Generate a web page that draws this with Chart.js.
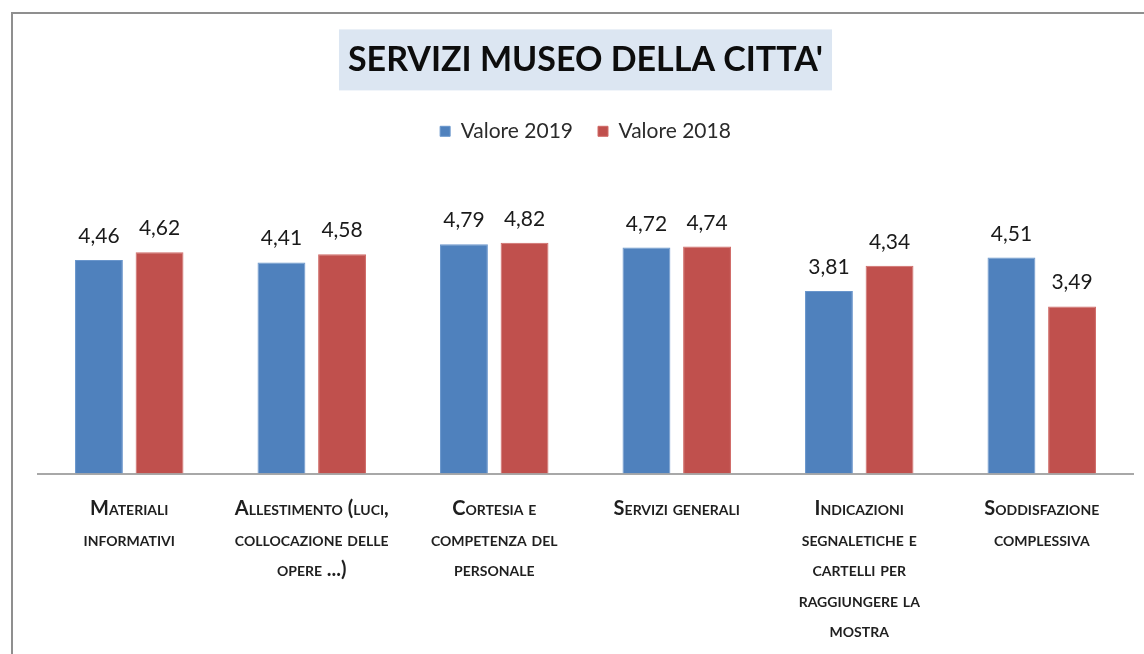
<!DOCTYPE html>
<html>
<head>
<meta charset="utf-8">
<script src="https://cdn.jsdelivr.net/npm/chart.js@4.4.1/dist/chart.umd.min.js"></script>
<style>
  html, body { margin: 0; padding: 0; background: #fff; overflow: hidden; }
  #wrap { position: relative; width: 1144px; height: 654px; }
</style>
</head>
<body>
<div id="wrap"><canvas id="c" width="1144" height="654"></canvas></div>
<script>
const chartTitle = "SERVIZI MUSEO DELLA CITTA'";
const categories = [
  ["Materiali", "informativi"],
  ["Allestimento (luci,", "collocazione delle", "opere ...)"],
  ["Cortesia e", "competenza del", "personale"],
  ["Servizi generali"],
  ["Indicazioni", "segnaletiche e", "cartelli per", "raggiungere la", "mostra"],
  ["Soddisfazione", "complessiva"]
];
const seriesNames = ["Valore 2019", "Valore 2018"];
const valori2019 = [4.46, 4.41, 4.79, 4.72, 3.81, 4.51];
const valori2018 = [4.62, 4.58, 4.82, 4.74, 4.34, 3.49];
const yMin = 0;
const yMax = 6.72;

const BLUE = '#4F81BD';
const RED = '#C0504D';

const frameAndTitleBox = {
  id: 'frameAndTitleBox',
  beforeDraw(chart) {
    const ctx = chart.ctx;
    ctx.save();
    ctx.fillStyle = '#ffffff';
    ctx.fillRect(0, 0, chart.width, chart.height);
    ctx.strokeStyle = '#8f8f8f';
    ctx.lineWidth = 2;
    ctx.strokeRect(12, 13, 1400, 1000);
    const tb = chart.titleBlock;
    if (tb) {
      const f = Chart.helpers.toFont(tb.options.font);
      ctx.font = f.string;
      const w = ctx.measureText(chartTitle).width;
      const cx = (tb.left + tb.right) / 2;
      const pad = Chart.helpers.toPadding(tb.options.padding);
      const cy = tb.top + pad.top + f.lineHeight / 2;
      ctx.fillStyle = '#DCE6F2';
      ctx.fillRect(cx - w / 2 - 9, cy - 31, w + 18, 61);
    }
    ctx.restore();
  }
};

const valueLabels = {
  id: 'valueLabels',
  afterDatasetsDraw(chart) {
    const ctx = chart.ctx;
    ctx.save();
    ctx.font = '21px Lato';
    ctx.fillStyle = '#1a1a1a';
    ctx.textAlign = 'center';
    ctx.textBaseline = 'alphabetic';
    chart.data.datasets.forEach((ds, i) => {
      const meta = chart.getDatasetMeta(i);
      meta.data.forEach((bar, j) => {
        const v = ds.data[j];
        ctx.fillText(v.toFixed(2).replace('.', ','), bar.x, bar.y - 17);
      });
    });
    ctx.restore();
  }
};

new Chart(document.getElementById('c'), {
  type: 'bar',
  data: {
    labels: categories,
    datasets: [
      { label: seriesNames[0], data: valori2019, backgroundColor: BLUE, borderColor: '#6a96cc', borderWidth: 1 },
      { label: seriesNames[1], data: valori2018, backgroundColor: RED, borderColor: '#d06a67', borderWidth: 1 }
    ]
  },
  options: {
    responsive: false,
    animation: false,
    events: [],
    categoryPercentage: 0.664,
    barPercentage: 0.79,
    layout: { padding: { left: 38, right: 11, top: 0, bottom: -12 } },
    plugins: {
      title: {
        display: true,
        text: chartTitle,
        color: '#0d0d0d',
        font: { family: "Lato", size: 34, weight: 'bold', lineHeight: 1.2 },
        padding: { top: 40, bottom: 15 }
      },
      legend: {
        display: true,
        position: 'top',
        labels: {
          color: '#2b2b2b',
          font: { family: 'Lato', size: 21 },
          boxWidth: 10,
          boxHeight: 10,
          padding: 25
        }
      },
      tooltip: { enabled: false }
    },
    scales: {
      x: {
        grid: { display: false, drawTicks: false },
        border: { display: true, color: '#a8a8a8', width: 2 },
        ticks: {
          color: '#1f1f1f',
          maxRotation: 0,
          minRotation: 0,
          autoSkip: false,
          padding: 20,
          font: { family: 'Lato', size: 20, weight: 'small-caps bold', lineHeight: '30.5px' }
        }
      },
      y: {
        display: false,
        min: yMin,
        max: yMax
      }
    }
  },
  plugins: [frameAndTitleBox, valueLabels]
});
</script>
</body>
</html>
